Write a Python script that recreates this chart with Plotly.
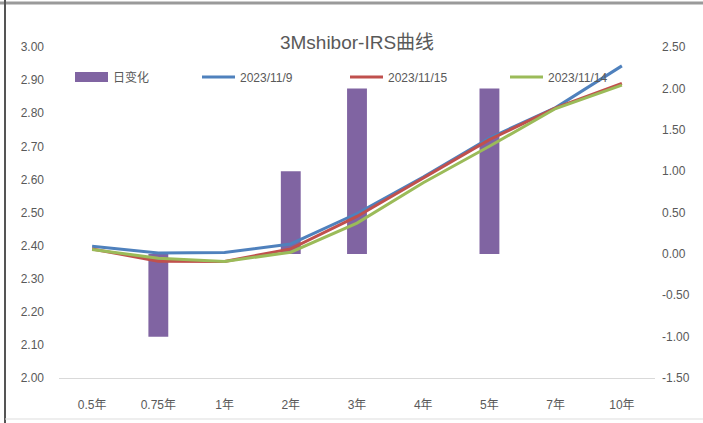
import plotly.graph_objects as go

categories = ["0.5年", "0.75年", "1年", "2年", "3年", "4年", "5年", "7年", "10年"]
daily_change = [0, -1.0, 0, 1.0, 2.0, 0, 2.0, 0, 0]
rate_1109 = [2.398, 2.378, 2.379, 2.405, 2.497, 2.607, 2.725, 2.817, 2.943]
rate_1115 = [2.390, 2.353, 2.352, 2.390, 2.488, 2.603, 2.720, 2.816, 2.890]
rate_1114 = [2.388, 2.362, 2.352, 2.380, 2.468, 2.590, 2.700, 2.814, 2.885]

left_ticks = [2.0 + i * 0.1 for i in range(11)]
right_ticks = [-1.5 + i * 0.5 for i in range(9)]

PURPLE = "#8064A2"
BLUE = "#4F81BD"
RED = "#C0504D"
GREEN = "#9BBB59"
TXT = "#595959"
FONT = "Liberation Sans, Noto Sans CJK SC, sans-serif"

L, R, T, B = 59, 48, 47, 45
W, H = 703, 423
pw = W - L - R
ph = H - T - B

def px_x(p):
    return (p - L) / pw

def px_y(p):
    return (H - B - p) / ph

fig = go.Figure()

fig.add_trace(go.Bar(x=categories, y=daily_change, marker_color=PURPLE,
                     marker_line_width=0, width=0.3, showlegend=False, yaxis="y"))

# legend-only entry with a wide swatch like the original
fig.add_trace(go.Scatter(x=[None], y=[None], mode="lines", name="日变化",
                         line=dict(color=PURPLE, width=10), yaxis="y2", legend="legend"))

series = [("2023/11/9", rate_1109, BLUE, "legend2"),
          ("2023/11/15", rate_1115, RED, "legend3"),
          ("2023/11/14", rate_1114, GREEN, "legend4")]
for name, vals, col, lg in series:
    fig.add_trace(go.Scatter(x=categories, y=vals, mode="lines", name=name,
                             line=dict(color=col, width=3), yaxis="y2", legend=lg))

leg_common = dict(orientation="h", yanchor="middle", bgcolor="rgba(0,0,0,0)",
                  font=dict(family=FONT, size=12, color=TXT), itemwidth=33)
leg_y = px_y(77)
fig.update_layout(
    legend=dict(x=px_x(70), y=leg_y, **leg_common),
    legend2=dict(x=px_x(197), y=leg_y, **leg_common),
    legend3=dict(x=px_x(345), y=leg_y, **leg_common),
    legend4=dict(x=px_x(505), y=leg_y, **leg_common),
)

fig.update_layout(
    width=W, height=H,
    margin=dict(l=L, r=R, t=T, b=B),
    paper_bgcolor="white", plot_bgcolor="white",
    font=dict(family=FONT, size=12, color=TXT),
    title=dict(text="3Mshibor-IRS曲线", x=px_x(357), xref="paper", xanchor="center",
               y=1 - 42 / H, yref="container", yanchor="middle",
               font=dict(family=FONT, size=19, color=TXT)),
    xaxis=dict(type="category", showgrid=False, showline=True, linecolor="#D9D9D9",
               linewidth=1, ticks="", ticklabelstandoff=16,
               tickfont=dict(family=FONT, size=12, color=TXT)),
    yaxis=dict(side="right", range=[-1.5, 2.5], tickvals=right_ticks,
               ticktext=[f"{v:.2f}" for v in right_ticks], showgrid=False,
               zeroline=False, showline=False, ticks="", ticklabelstandoff=6,
               tickfont=dict(family=FONT, size=12, color=TXT)),
    yaxis2=dict(side="left", overlaying="y", range=[2.0, 3.0], tickvals=left_ticks,
                ticktext=[f"{v:.2f}" for v in left_ticks], showgrid=False,
                zeroline=False, showline=False, ticks="", ticklabelstandoff=14,
                tickfont=dict(family=FONT, size=12, color=TXT)),
    bargap=0.7,
)

# outer frame of the screenshot
fig.add_shape(type="line", xref="paper", yref="paper",
              x0=px_x(0), x1=px_x(W), y0=px_y(3), y1=px_y(3),
              line=dict(color="#9A9A9A", width=3))
fig.add_shape(type="line", xref="paper", yref="paper",
              x0=px_x(5), x1=px_x(5), y0=px_y(0), y1=px_y(H),
              line=dict(color="#555555", width=2))
fig.add_shape(type="line", xref="paper", yref="paper",
              x0=px_x(5), x1=px_x(W), y0=px_y(419), y1=px_y(419),
              line=dict(color="#DDDDDD", width=1))

fig.write_html("out.html", config={"displayModeBar": False},
               post_script="document.body.style.margin='0';document.body.style.overflow='hidden';")
